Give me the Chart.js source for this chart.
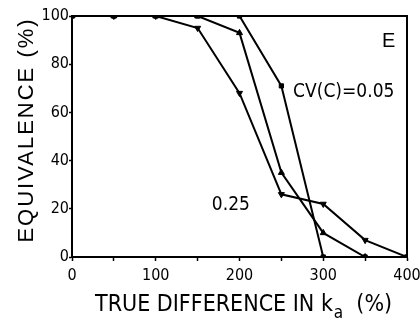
<!DOCTYPE html>
<html>
<head>
<meta charset="utf-8">
<script src="https://cdn.jsdelivr.net/npm/chart.js@4"></script>
<style>
  body { margin: 0; background: #fff; }
  canvas { display: block; }
</style>
</head>
<body>
<canvas id="chart" width="420" height="320"></canvas>
<script>
// x values (true difference in k_a, %)
const diffs = [0, 50, 100, 150, 200, 250, 300, 350, 400];
// equivalence (%) for each curve
const cv005 = [100, 100, 100, 100, 100, 71, 0, 0, 0];
const cvMid = [100, 100, 100, 100, 93, 35, 10, 0, 0];
const cv025 = [100, 100, 100, 95, 68, 26, 22, 7, 0];

const yTicks = [0, 20, 40, 60, 80, 100];
const xTicks = [0, 100, 200, 300, 400];

const FONT = "'Liberation Sans Narrow', 'DejaVu Sans Condensed', 'Liberation Sans', sans-serif";

function points(ys) {
  return diffs.map(function (x, i) { return { x: x, y: ys[i] }; });
}

function series(ys, style, rot, r) {
  return {
    data: points(ys),
    borderColor: "#000",
    backgroundColor: "#000",
    borderWidth: 2,
    pointStyle: style,
    pointRotation: rot,
    pointRadius: r,
    pointBorderWidth: 1,
    tension: 0,
    fill: false,
  };
}

// draws the frame, the axis titles and the curve labels
const extras = {
  id: "extras",
  afterDraw: function (chart) {
    const ctx = chart.ctx;
    const a = chart.chartArea;
    const xs = chart.scales.x;
    const ys = chart.scales.y;
    ctx.save();
    ctx.strokeStyle = "#000";
    ctx.lineWidth = 2;
    ctx.beginPath();
    ctx.moveTo(a.left, a.top);
    ctx.lineTo(a.right, a.top);
    ctx.lineTo(a.right, a.bottom);
    ctx.stroke();

    ctx.fillStyle = "#000";
    ctx.textBaseline = "alphabetic";
    ctx.textAlign = "left";

    ctx.font = "20px 'Liberation Sans', sans-serif";
    ctx.fillText("E", xs.getPixelForValue(370), ys.getPixelForValue(87));
    ctx.font = "19px " + FONT;
    ctx.fillText("CV(C)=0.05", xs.getPixelForValue(264), ys.getPixelForValue(66.4));
    ctx.fillText("0.25", xs.getPixelForValue(167), ys.getPixelForValue(19.5));

    // y title
    ctx.save();
    ctx.translate(33, 130);
    ctx.rotate(-Math.PI / 2);
    ctx.font = "22px 'Liberation Sans', sans-serif";
    ctx.letterSpacing = "2px";
    ctx.textAlign = "center";
    ctx.fillText("EQUIVALENCE (%)", 0, 0);
    ctx.restore();

    // x title with subscript a
    ctx.font = "23px " + FONT;
    let x = 95;
    const base = 311;
    const main = "TRUE DIFFERENCE IN k";
    ctx.fillText(main, x, base);
    x += ctx.measureText(main).width;
    ctx.font = "17px " + FONT;
    ctx.fillText("a", x + 1, base + 7);
    x += ctx.measureText("a").width + 1;
    ctx.font = "23px " + FONT;
    ctx.fillText("  (%)", x, base);
    ctx.restore();
  },
};

new Chart(document.getElementById("chart"), {
  type: "line",
  data: {
    datasets: [
      series(cv005, "rect", 0, 3),
      series(cvMid, "triangle", 0, 3.5),
      series(cv025, "triangle", 180, 3.5),
    ],
  },
  options: {
    responsive: false,
    animation: false,
    devicePixelRatio: 1,
    layout: { padding: { top: 16, right: 13, left: 0, bottom: 0 } },
    plugins: {
      legend: { display: false },
      tooltip: { enabled: false },
    },
    scales: {
      x: {
        type: "linear",
        min: 0,
        max: 400,
        afterFit: function (s) {
          s.height = 63;
          s.paddingLeft = 0;
          s.paddingRight = 0;
        },
        border: { display: true, color: "#000", width: 2 },
        grid: { drawOnChartArea: false, color: "#000", tickLength: 4, tickWidth: 1.5 },
        ticks: {
          stepSize: 50,
          padding: 5,
          color: "#000",
          font: { family: FONT, size: 16 },
          maxRotation: 0,
          callback: function (v) { return xTicks.includes(v) ? String(v) : ""; },
        },
      },
      y: {
        min: 0,
        max: 100,
        afterFit: function (s) {
          s.width = 72;
          s.paddingTop = 0;
          s.paddingBottom = 0;
        },
        border: { display: true, color: "#000", width: 2 },
        grid: { drawOnChartArea: false, color: "#000", tickLength: 3, tickWidth: 1.5 },
        ticks: {
          stepSize: 20,
          padding: 0,
          color: "#000",
          font: { family: FONT, size: 16 },
          callback: function (v) { return yTicks.includes(v) ? String(v) : ""; },
        },
      },
    },
  },
  plugins: [extras],
});
</script>
</body>
</html>
